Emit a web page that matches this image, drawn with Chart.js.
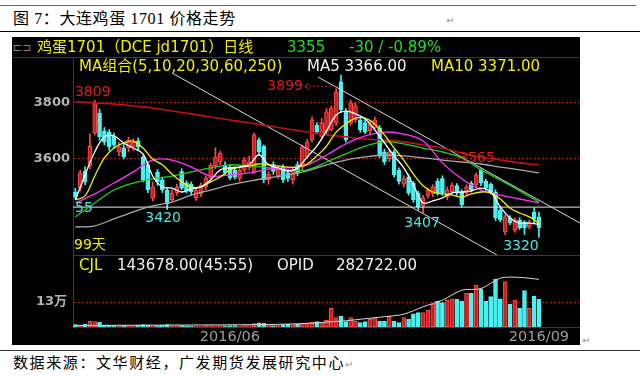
<!DOCTYPE html>
<html>
<head>
<meta charset="utf-8">
<title>大连鸡蛋 1701 价格走势</title>
<script src="https://cdn.jsdelivr.net/npm/chart.js@4.4.1/dist/chart.umd.min.js"></script>
<style>
  html, body { margin: 0; padding: 0; background: #fff; }
  #page { position: relative; width: 640px; height: 380px; overflow: hidden; }
  .txt { position: absolute; white-space: nowrap; line-height: 16px; font-size: 15px;
         font-family: "DejaVu Sans", "Noto Sans CJK SC", sans-serif; }
  .doc { font-family: "Liberation Serif", "Noto Sans CJK SC", serif; color: #000; font-size: 16px; line-height: 18px; }
  .rule { position: absolute; height: 1px; }
  #panel { position: absolute; left: 12px; top: 37px; width: 568px; height: 308px; background: #000; }
  canvas { position: absolute; }
  .yel { color: #f0f000; } .wht { color: #f0f0f0; } .grn { color: #22dd22; }
</style>
</head>
<body>
<div id="page">
  <div class="rule" style="left:0;top:5px;width:636px;background:#666"></div>
  <div class="txt doc" style="left:13px;top:10px;letter-spacing:0.6px">图 7：大连鸡蛋 1701 价格走势</div>
  <div class="txt" style="left:446px;top:13px;font-size:10px;color:#999">↵</div>
  <div class="rule" style="left:0;top:31px;width:640px;background:#000"></div>

  <div id="panel"></div>
  <div class="rule" style="left:12px;top:57px;width:568px;background:#a01010"></div>
  <div class="rule" style="left:73px;top:255px;width:507px;background:#a01010"></div>
  <canvas id="price" width="568" height="198" style="left:12px;top:57px"></canvas>
  <canvas id="volume" width="568" height="90" style="left:12px;top:255px"></canvas>

  <div class="txt" style="left:13px;top:40px;font-size:11px;color:#888">⊏⊐</div>
  <div class="txt yel" style="left:37px;top:39px">鸡蛋1701（DCE  jd1701）日线</div>
  <div class="txt grn" style="left:287px;top:39px">3355</div>
  <div class="txt grn" style="left:349px;top:39px">-30 / -0.89%</div>
  <div class="txt yel" style="left:79px;top:58px">MA组合(5,10,20,30,60,250)</div>
  <div class="txt wht" style="left:307px;top:58px">MA5 3366.00</div>
  <div class="txt yel" style="left:431px;top:58px">MA10 3371.00</div>
  <div class="txt yel" style="left:79px;top:257px">CJL</div>
  <div class="txt wht" style="left:117px;top:257px">143678.00(45:55)</div>
  <div class="txt wht" style="left:277px;top:257px">OPID</div>
  <div class="txt wht" style="left:336px;top:257px">282722.00</div>

  <div class="txt" style="left:582px;top:333px;font-size:10px;color:#999">↵</div>
  <div class="rule" style="left:0;top:350px;width:640px;background:#333"></div>
  <div class="txt doc" style="left:13px;top:354px;font-size:15px;letter-spacing:1.6px">数据来源：文华财经，广发期货发展研究中心<span style="font-size:10px;color:#999;letter-spacing:0">↵</span></div>
</div>

<script>
// 日K线数据（从图上读取，约97根）
const opens  = [3482,3496,3557,3575,3693,3764,3700,3696,3682,3625,3640,3639,3643,3665,3607,3580,3460,3553,3525,3489,
                3455,3480,3555,3515,3510,3462,3475,3500,3532,3575,3589,3578,3570,3560,3530,3561,3570,3553,3668,3645,
                3525,3580,3540,3570,3550,3525,3580,3571,3607,3668,3720,3680,3696,3704,3729,3875,3768,3729,3740,3739,
                3730,3700,3711,3711,3625,3600,3625,3560,3510,3536,3514,3478,3432,3470,3475,3520,3530,3465,3482,3505,
                3482,3478,3514,3507,3561,3520,3510,3482,3418,3339,3390,3346,3382,3375,3358,3410,3393];
const highs  = [3495,3560,3572,3690,3809,3778,3712,3705,3692,3660,3652,3678,3672,3675,3612,3590,3518,3562,3535,3495,
                3490,3510,3565,3522,3518,3498,3515,3540,3585,3640,3628,3590,3580,3572,3570,3605,3610,3692,3675,3650,
                3555,3590,3575,3580,3560,3568,3590,3650,3670,3750,3730,3745,3780,3790,3850,3899,3780,3810,3800,3748,
                3740,3735,3750,3720,3635,3635,3632,3568,3540,3545,3520,3485,3470,3495,3508,3530,3540,3500,3515,3512,
                3490,3508,3520,3550,3565,3528,3515,3490,3425,3400,3398,3390,3390,3380,3382,3425,3410];
const lows   = [3455,3485,3508,3565,3685,3668,3650,3630,3638,3612,3600,3625,3630,3630,3518,3480,3450,3505,3480,3420,
                3448,3470,3490,3478,3470,3452,3465,3490,3525,3565,3580,3540,3525,3528,3520,3552,3560,3548,3615,3515,
                3510,3545,3530,3515,3520,3510,3540,3562,3600,3660,3690,3670,3690,3700,3720,3765,3660,3720,3730,3695,
                3690,3690,3705,3605,3580,3590,3535,3510,3500,3470,3445,3418,3407,3460,3465,3470,3470,3455,3475,3470,
                3428,3470,3482,3500,3505,3488,3475,3380,3375,3330,3365,3338,3348,3330,3350,3372,3320];
const closes = [3464,3550,3518,3645,3800,3679,3660,3643,3650,3643,3608,3668,3660,3642,3525,3489,3500,3518,3489,3440,
                3478,3500,3496,3485,3482,3489,3507,3532,3578,3607,3621,3550,3532,3535,3560,3596,3590,3686,3625,3525,
                3545,3555,3565,3525,3530,3560,3550,3643,3660,3739,3696,3730,3768,3782,3839,3775,3668,3800,3790,3704,
                3696,3725,3740,3614,3589,3625,3543,3520,3530,3478,3454,3429,3462,3489,3500,3478,3480,3490,3507,3478,
                3436,3500,3490,3543,3514,3496,3482,3389,3382,3393,3372,3382,3355,3355,3375,3385,3355];
// 成交量
const volumes = [12000,10000,15000,30000,28000,25000,10000,9000,8000,8000,9000,7000,8000,9000,12000,10000,8000,7000,9000,12000,
                 8000,7000,8000,6000,5000,6000,5000,8000,7000,6000,7000,6000,8000,7000,6000,8000,7000,18000,22000,20000,
                 10000,8000,9000,12000,14000,12000,15000,20000,22000,24000,28000,22500,34700,97000,48500,57000,27700,48500,31000,22500,
                 27700,40000,48500,31000,31000,57000,31000,22500,48500,40000,69000,74500,74500,88000,118000,135000,126500,138500,147000,144000,
                 135000,175000,175000,218000,196000,135000,158000,248000,147000,236000,118000,140000,97000,190000,97000,161000,143678];

// 均线（读图取样）
const fastIdx = [0,2,4,6,8,10,12,14,16,18,20,22,24,26,28,30,32,34,36,38,40,42,44,46,48,50,52,54,56,58,60,62,64,66,68,70,72,74,76,78,80,82,84,86,88,90,92,94,96];
const ma5  = [3454,3543,3625,3679,3682,3657,3639,3618,3539,3500,3496,3482,3493,3500,3525,3561,3568,3571,3579,3614,3579,3568,3557,3568,3607,
              3646,3700,3757,3771,3761,3743,3704,3657,3611,3568,3507,3443,3450,3461,3479,3482,3486,3496,3482,3429,3389,3371,3371,3366];
const ma10 = [3454,3468,3539,3604,3639,3657,3664,3639,3600,3579,3546,3518,3500,3500,3518,3536,3561,3571,3575,3582,3579,3575,3571,3571,3582,
              3611,3646,3696,3725,3746,3746,3725,3686,3639,3596,3546,3504,3482,3475,3471,3464,3475,3482,3479,3457,3425,3407,3393,3371];
const slowIdx = [0,4,8,12,16,20,24,28,32,36,40,44,48,52,56,60,64,68,72,76,80,84,88,92,96];
const ma20  = [3443,3475,3514,3554,3596,3596,3571,3539,3543,3550,3564,3568,3579,3614,3654,3682,3696,3689,3664,3586,3529,3489,3471,3457,3443];
const ma30  = [3393,3443,3489,3514,3529,3539,3554,3568,3579,3575,3568,3561,3561,3589,3618,3646,3661,3654,3639,3625,3604,3561,3525,3486,3446];
const ma60  = [3357,3361,3386,3411,3432,3446,3471,3489,3507,3521,3532,3543,3557,3579,3596,3607,3614,3611,3604,3596,3589,3582,3571,3561,3550];
const ma250 = [3804,3800,3796,3789,3782,3771,3761,3750,3739,3729,3718,3707,3696,3686,3679,3671,3668,3661,3650,3639,3621,3607,3596,3586,3579];

// 持仓量
const oiIdx = [0,8,16,24,32,40,48,52,56,60,64,68,72,76,80,84,88,92,96];
const openInterest = [9000,10000,11000,12000,13000,15000,21000,29000,37000,49000,61000,76000,120000,159000,218000,228000,290000,294000,282722];

// 画线：两条下降通道线 + 一条水平线
const trendAIdx = [20, 87.3],  trendAPrice = [3907, 3257];
const trendBIdx = [50.2, 104.5], trendBPrice = [3893, 3371];
const supportPrice = 3428;

// 坐标轴刻度
const priceTicks = [3600, 3800];
const volTicks = [130000];
const dateTickIdx = [32, 96];
const dateTickLabels = ['2016/06', '2016/09'];

// 高低点标注
const highMarkIdx = [4, 55, 84];
const lowMarkIdx = [19, 72, 96];

// ---- 样式 ----
const UP_FILL = '#c82020', UP_EDGE = '#ff4a4a', DOWN = '#4cf0f0', FRAME = '#a01010';
const X_MIN = -0.5, X_MAX = 104.5;
const isUp = i => closes[i] >= opens[i];
const pts = (xs, ys) => xs.map((x, k) => ({ x, y: ys[k] }));

function line(xs, ys, color, order, extra) {
    return Object.assign({
        type: 'line', data: pts(xs, ys), borderColor: color, borderWidth: 1.3,
        pointRadius: 0, tension: 0.35, order: order
    }, extra || {});
}

// 纵轴不要为首尾刻度文字预留上下边距
function fixWidth(s) {
    s.width = 61;
    s.paddingTop = 0;
    s.paddingBottom = 0;
}

// 高低点文字
const markPlugin = {
    id: 'marks',
    afterDatasetsDraw(chart) {
        const { ctx, chartArea, scales: { x, y } } = chart;
        ctx.save();
        ctx.font = '14px "DejaVu Sans"';
        ctx.textBaseline = 'middle';
        ctx.textAlign = 'center';
        const hiOff = [[-2, -8], null, [-4, -10]];
        highMarkIdx.forEach((i, k) => {
            const px = x.getPixelForValue(i), py = y.getPixelForValue(highs[i]);
            ctx.fillStyle = '#e01c1c';
            if (hiOff[k]) {
                ctx.fillText(String(highs[i]), px + hiOff[k][0], py + hiOff[k][1]);
            } else {
                // 左侧带箭头的标注
                const ly = py + 11;
                ctx.textAlign = 'right';
                ctx.fillText(String(highs[i]), px - 38, ly);
                ctx.textAlign = 'center';
                ctx.strokeStyle = '#e01c1c';
                ctx.lineWidth = 1;
                ctx.beginPath();
                ctx.moveTo(px - 36, ly); ctx.lineTo(px - 32, ly - 3);
                ctx.moveTo(px - 36, ly); ctx.lineTo(px - 32, ly + 3);
                ctx.stroke();
                ctx.setLineDash([2, 2]);
                ctx.beginPath(); ctx.moveTo(px - 36, ly); ctx.lineTo(px - 3, ly); ctx.stroke();
                ctx.setLineDash([]);
            }
        });
        const loOff = [[-4, 9], [-1, 10], [-18, 9]];
        lowMarkIdx.forEach((i, k) => {
            const px = x.getPixelForValue(i), py = y.getPixelForValue(lows[i]);
            ctx.fillStyle = '#48e8e8';
            ctx.fillText(String(lows[i]), px + loOff[k][0], py + loOff[k][1]);
        });
        // 水平线左端价格（被截断）与天数
        ctx.textAlign = 'left';
        ctx.fillStyle = '#48e8e8';
        ctx.fillText('55', chartArea.left + 2, y.getPixelForValue(supportPrice) + 1);
        ctx.fillStyle = '#f0f000';
        ctx.font = '14px "DejaVu Sans", "Noto Sans CJK SC"';
        ctx.fillText('99天', chartArea.left + 1, chartArea.top + 188);
        ctx.restore();
    }
};

const xHidden = { type: 'linear', min: X_MIN, max: X_MAX, offset: false, display: false };
const common = {
    responsive: false, animation: false, maintainAspectRatio: false,
    layout: { padding: 0 },
    plugins: { legend: { display: false }, tooltip: { enabled: false } }
};

// 价格主图
new Chart(document.getElementById('price'), {
    type: 'bar',
    data: {
        datasets: [
            line(fastIdx, ma5, '#ffffff', 1),
            line(fastIdx, ma10, '#f0f000', 1),
            line(slowIdx, ma20, '#ff30ff', 1),
            line(slowIdx, ma30, '#20d020', 1),
            line(slowIdx, ma60, '#a8a8a8', 1),
            line(slowIdx, ma250, '#c01010', 1, { borderWidth: 1.6 }),
            line(trendAIdx, trendAPrice, '#d8d8d8', 2, { tension: 0, borderWidth: 1 }),
            line(trendBIdx, trendBPrice, '#d8d8d8', 2, { tension: 0, borderWidth: 1 }),
            line([X_MIN, X_MAX], [supportPrice, supportPrice], '#e8e8e8', 2, { tension: 0, borderWidth: 1 }),
            {
                type: 'bar', order: 3, grouped: false, barThickness: 4, minBarLength: 1,
                data: opens.map((o, i) => ({ x: i, y: [o, closes[i]] })),
                backgroundColor: opens.map((o, i) => isUp(i) ? UP_FILL : DOWN),
                borderColor: opens.map((o, i) => isUp(i) ? UP_EDGE : DOWN),
                borderWidth: 1, borderSkipped: false
            },
            {
                type: 'bar', order: 4, grouped: false, barThickness: 1,
                data: lows.map((l, i) => ({ x: i, y: [l, highs[i]] })),
                backgroundColor: lows.map((l, i) => isUp(i) ? UP_EDGE : DOWN)
            }
        ]
    },
    options: Object.assign({}, common, {
        scales: {
            x: xHidden,
            y: {
                min: 3257, max: 3964, position: 'left',
                afterFit: fixWidth,
                afterBuildTicks(s) { s.ticks = priceTicks.map(v => ({ value: v })); },
                ticks: {
                    color: '#b4b4b4', padding: 3,
                    font: { family: 'DejaVu Sans', size: 13, weight: 'bold' },
                    callback: v => String(v)
                },
                grid: { color: '#b01818', drawTicks: false },
                border: { color: FRAME, dash: [2, 2] }
            }
        }
    }),
    plugins: [markPlugin]
});

// 成交量副图
new Chart(document.getElementById('volume'), {
    type: 'bar',
    data: {
        datasets: [
            line(oiIdx, openInterest, '#d8d8d8', 1, { yAxisID: 'yO', tension: 0.3, borderWidth: 1 }),
            {
                type: 'bar', order: 2, grouped: false, barThickness: 4, yAxisID: 'yV',
                data: volumes.map((v, i) => ({ x: i, y: v })),
                backgroundColor: volumes.map((v, i) => isUp(i) ? UP_FILL : DOWN),
                borderColor: volumes.map((v, i) => isUp(i) ? UP_EDGE : DOWN),
                borderWidth: 1, borderSkipped: false
            }
        ]
    },
    options: Object.assign({}, common, {
        scales: {
            x: {
                type: 'linear', min: X_MIN, max: X_MAX, offset: false,
                afterFit(s) { s.height = 18; s.paddingLeft = 0; s.paddingRight = 0; },
                afterBuildTicks(s) { s.ticks = dateTickIdx.map(v => ({ value: v })); },
                ticks: {
                    color: '#9c9c9c', padding: 2, autoSkip: false, maxRotation: 0,
                    font: { family: 'DejaVu Sans', size: 14.5 },
                    callback: v => dateTickLabels[dateTickIdx.indexOf(v)]
                },
                grid: { display: false, drawTicks: false },
                border: { color: FRAME }
            },
            yV: {
                min: 0, max: 374400, position: 'left',
                afterFit: fixWidth,
                afterBuildTicks(s) { s.ticks = volTicks.map(v => ({ value: v })); },
                ticks: {
                    color: '#b4b4b4', padding: 6,
                    font: { family: '"DejaVu Sans", "Noto Sans CJK SC"', size: 13, weight: 'bold' },
                    callback: v => (v / 10000) + '万'
                },
                grid: { color: '#b01818', drawTicks: false },
                border: { color: FRAME, dash: [2, 2] }
            },
            yO: { min: 0, max: 427000, display: false }
        }
    })
});
</script>
</body>
</html>
